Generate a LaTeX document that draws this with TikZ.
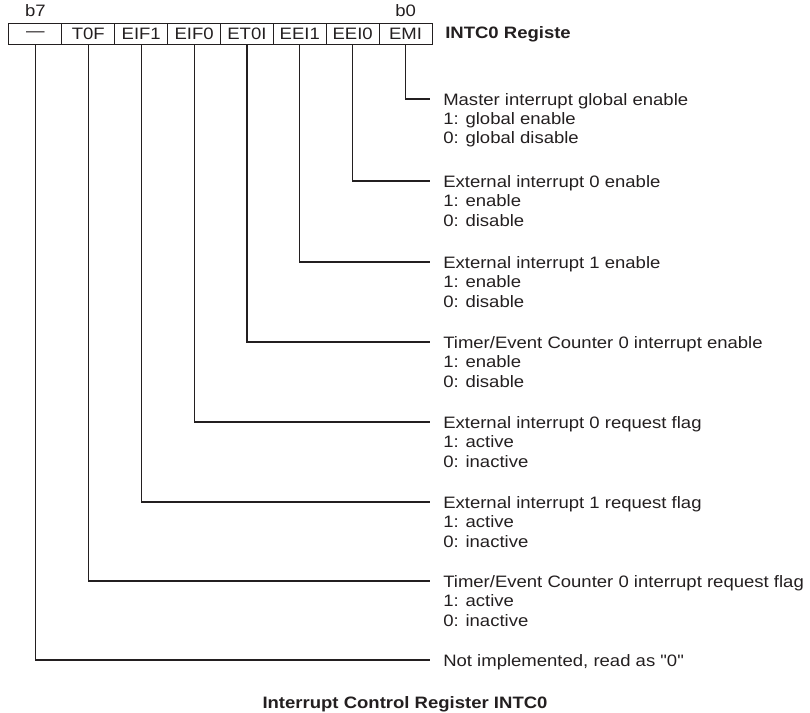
\documentclass[tikz,border=0pt]{standalone}
\usepackage{fontspec}
\setmainfont{Liberation Sans}[FakeStretch=1.12,Ligatures=TeXOff]
\definecolor{ink}{HTML}{231F20}
\begin{document}
\begin{tikzpicture}[x=0.75pt,y=-0.75pt,
  every node/.style={text=ink,font=\fontsize{12.4}{14.6}\selectfont},
  cell/.style={draw=ink,line width=0.8pt,minimum width=39.66pt,minimum height=15.5pt,inner sep=0pt},
  lbl/.style={inner sep=0pt},
  desc/.style={anchor=base west,inner sep=0pt},
  lead/.style={draw=ink,line width=0.9pt},
  bold/.style={inner sep=0pt,font=\fontsize{12.4}{14.6}\selectfont\bfseries}]
\useasboundingbox (0,0) rectangle (810,713);
% register cells
\node[cell] (c7) at (35.4,34) {—};
\node[cell] (c6) at (88.3,34) {T0F};
\node[cell] (c5) at (141.2,34) {EIF1};
\node[cell] (c4) at (194.1,34) {EIF0};
\node[cell] (c3) at (246.9,34) {ET0I};
\node[cell] (c2) at (299.8,34) {EEI1};
\node[cell] (c1) at (352.7,34) {EEI0};
\node[cell] (c0) at (405.6,34) {EMI};
\node[lbl] (b7) at (35.4,11) {b7};
\node[lbl] (b0) at (405.6,11) {b0};
\node[bold,anchor=west] (reg) at (445,34) {INTC0 Registe};
% elbow ends
\coordinate (e0) at (430,99);
\coordinate (e1) at (430,181);
\coordinate (e2) at (430,262);
\coordinate (e3) at (430,342);
\coordinate (e4) at (430,422);
\coordinate (e5) at (430,502);
\coordinate (e6) at (430,581);
\coordinate (e7) at (430,660);
\draw[lead] (c0.south) |- (e0);
\draw[lead] (c1.south) |- (e1);
\draw[lead] (c2.south) |- (e2);
\draw[lead] (c3.south) |- (e3);
\draw[lead] (c4.south) |- (e4);
\draw[lead] (c5.south) |- (e5);
\draw[lead] (c6.south) |- (e6);
\draw[lead] (c7.south) |- (e7);
% descriptions
\node[desc] (d0a) at (443,106) {Master interrupt global enable};
\node[desc] (d0b) at (443,125) {1: global enable};
\node[desc] (d0c) at (443,144) {0: global disable};
\node[desc] (d1a) at (443,187) {External interrupt 0 enable};
\node[desc] (d1b) at (443,206.5) {1: enable};
\node[desc] (d1c) at (443,226) {0: disable};
\node[desc] (d2a) at (443,268) {External interrupt 1 enable};
\node[desc] (d2b) at (443,287.5) {1: enable};
\node[desc] (d2c) at (443,307) {0: disable};
\node[desc] (d3a) at (443,348) {Timer/Event Counter 0 interrupt enable};
\node[desc] (d3b) at (443,367.5) {1: enable};
\node[desc] (d3c) at (443,387) {0: disable};
\node[desc] (d4a) at (443,428) {External interrupt 0 request flag};
\node[desc] (d4b) at (443,447.5) {1: active};
\node[desc] (d4c) at (443,467) {0: inactive};
\node[desc] (d5a) at (443,508) {External interrupt 1 request flag};
\node[desc] (d5b) at (443,527.5) {1: active};
\node[desc] (d5c) at (443,547) {0: inactive};
\node[desc] (d6a) at (443,587) {Timer/Event Counter 0 interrupt request flag};
\node[desc] (d6b) at (443,606.5) {1: active};
\node[desc] (d6c) at (443,626) {0: inactive};
\node[desc] (d7a) at (443,666) {Not implemented, read as "0"};
% title
\node[bold] (title) at (405,704) {Interrupt Control Register INTC0};
\end{tikzpicture}
\end{document}
